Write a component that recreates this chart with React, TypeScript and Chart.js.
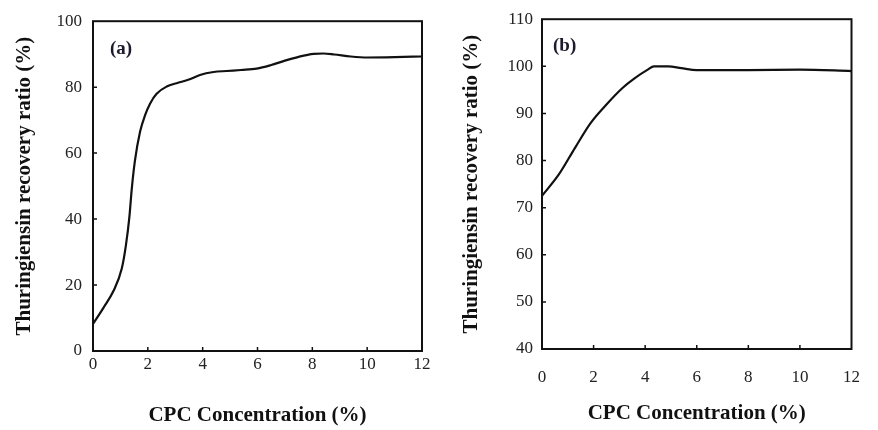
import React, { useEffect, useRef } from "react";
import { Chart, registerables } from "chart.js";

Chart.register(...registerables);

const xTicks = [0, 2, 4, 6, 8, 10, 12];

const aX = [0, 0.38, 0.74, 1.05, 1.2, 1.33, 1.41, 1.53, 1.72, 1.9, 2.08, 2.32, 2.69, 3.05, 3.5, 3.9, 4.4, 4.87, 5.4, 5.97, 6.5, 6.95, 7.5, 8.05, 8.4, 8.8, 9.4, 10, 11, 12];
const aY = [8.2, 13.1, 18.1, 25, 32, 40.9, 48.8, 57.7, 66.6, 71.5, 75, 78, 80.2, 81.2, 82.3, 83.7, 84.6, 84.9, 85.2, 85.6, 86.7, 87.9, 89.2, 90.1, 90.2, 89.9, 89.3, 89, 89.1, 89.3];
const aYTicks = [0, 20, 40, 60, 80, 100];

const bX = [0, 0.66, 1.28, 1.89, 2.5, 3.12, 3.6, 4.1, 4.34, 4.9, 5.4, 6.0, 8, 10, 12];
const bY = [72.5, 77.1, 82.7, 88, 91.9, 95.4, 97.5, 99.3, 100, 100, 99.6, 99.2, 99.2, 99.3, 99.0];
const bYTicks = [40, 50, 60, 70, 80, 90, 100, 110];

const xTitle = "CPC Concentration (%)";
const yTitle = "Thuringiensin recovery ratio (%)";

const SERIF = "'Liberation Serif', 'Times New Roman', serif";

type PanelCfg = {
  xs: number[];
  ys: number[];
  yTicks: number[];
  yMin: number;
  yMax: number;
  label: string;
  padTop: number;
  padRight: number;
  yWidth: number;
  xHeight: number;
  yTitlePad: number;
  yTickPad: number;
  xTickPad: number;
  xTitlePad: number;
  labelDx: number;
  labelDy: number;
};

function makeFramePlugin(label: string, dx: number, dy: number, yTicks: number[]) {
  return {
    id: "frame" + label,
    afterDraw(chart: any) {
      const { ctx, chartArea } = chart;
      const { left, right, top, bottom } = chartArea;
      const xs = chart.scales.x;
      const ys = chart.scales.y;
      ctx.save();
      ctx.strokeStyle = "#111";
      ctx.lineWidth = 2;
      ctx.strokeRect(left, top, right - left, bottom - top);
      ctx.lineWidth = 1.5;
      ctx.beginPath();
      for (const t of xTicks) {
        const px = xs.getPixelForValue(t);
        if (px <= left + 1 || px >= right - 1) continue;
        ctx.moveTo(px, bottom);
        ctx.lineTo(px, bottom - 4);
      }
      for (const t of yTicks) {
        const py = ys.getPixelForValue(t);
        if (py <= top + 1 || py >= bottom - 1) continue;
        ctx.moveTo(left, py);
        ctx.lineTo(left + 4, py);
      }
      ctx.stroke();
      ctx.fillStyle = "#1d1a2e";
      ctx.font = "bold 19px " + SERIF;
      ctx.textBaseline = "middle";
      ctx.textAlign = "left";
      ctx.fillText(label, left + dx, top + dy);
      ctx.restore();
    },
  };
}

function Panel({ cfg, style }: { cfg: PanelCfg; style: React.CSSProperties }) {
  const ref = useRef<HTMLCanvasElement | null>(null);
  useEffect(() => {
    if (!ref.current) return;
    const data = cfg.xs.map((x, i) => ({ x, y: cfg.ys[i] }));
    const chart = new Chart(ref.current, {
      type: "line",
      data: {
        datasets: [
          {
            data,
            borderColor: "#111",
            borderWidth: 2.2,
            pointRadius: 0,
            cubicInterpolationMode: "monotone",
            fill: false,
          } as any,
        ],
      },
      options: {
        animation: false,
        responsive: false,
        maintainAspectRatio: false,
        layout: { padding: { top: cfg.padTop, right: cfg.padRight, left: 0, bottom: 0 } },
        plugins: { legend: { display: false }, tooltip: { enabled: false } },
        scales: {
          x: {
            type: "linear",
            min: 0,
            max: 12,
            afterFit: (s: any) => {
              s.height = cfg.xHeight;
            },
            afterBuildTicks: (s: any) => {
              s.ticks = xTicks.map((v) => ({ value: v }));
            },
            grid: { display: false, drawTicks: false },
            border: { display: false },
            ticks: {
              padding: cfg.xTickPad,
              color: "#222",
              maxRotation: 0,
              font: { family: SERIF, size: 17 },
            },
            title: {
              display: true,
              text: xTitle,
              color: "#111",
              font: { family: SERIF, size: 21, weight: "bold" },
              padding: { top: 0, bottom: cfg.xTitlePad },
            },
          },
          y: {
            type: "linear",
            min: cfg.yMin,
            max: cfg.yMax,
            afterFit: (s: any) => {
              s.width = cfg.yWidth;
            },
            afterBuildTicks: (s: any) => {
              s.ticks = cfg.yTicks.map((v) => ({ value: v }));
            },
            grid: { display: false, drawTicks: false },
            border: { display: false },
            ticks: {
              padding: cfg.yTickPad,
              color: "#222",
              font: { family: SERIF, size: 17 },
            },
            title: {
              display: true,
              text: yTitle,
              color: "#111",
              font: { family: SERIF, size: 21, weight: "bold" },
              padding: { top: cfg.yTitlePad, bottom: 0 },
            },
          },
        },
      } as any,
      plugins: [makeFramePlugin(cfg.label, cfg.labelDx, cfg.labelDy, cfg.yTicks)],
    });
    return () => chart.destroy();
  }, [cfg]);
  return (
    <div style={{ position: "absolute", ...style }}>
      <canvas ref={ref} width={style.width as number} height={style.height as number} />
    </div>
  );
}

const cfgA: PanelCfg = {
  xs: aX,
  ys: aY,
  yTicks: aYTicks,
  yMin: 0,
  yMax: 100,
  label: "(a)",
  padTop: 14,
  padRight: 18,
  yWidth: 93,
  xHeight: 79,
  yTitlePad: 12,
  yTickPad: 11,
  xTickPad: 3,
  xTitlePad: 2,
  labelDx: 17,
  labelDy: 28,
};

const cfgB: PanelCfg = {
  xs: bX,
  ys: bY,
  yTicks: bYTicks,
  yMin: 40,
  yMax: 110,
  label: "(b)",
  padTop: 18,
  padRight: 10,
  yWidth: 102,
  xHeight: 81,
  yTitlePad: 19,
  yTickPad: 9,
  xTickPad: 18,
  xTitlePad: 4,
  labelDx: 11,
  labelDy: 27,
};

export default function App() {
  return (
    <div style={{ position: "fixed", left: 0, top: 0, width: 878, height: 430, background: "#fff" }}>
      <Panel cfg={cfgA} style={{ left: 0, top: 0, width: 440, height: 430 }} />
      <Panel cfg={cfgB} style={{ left: 440, top: 0, width: 438, height: 430 }} />
    </div>
  );
}
